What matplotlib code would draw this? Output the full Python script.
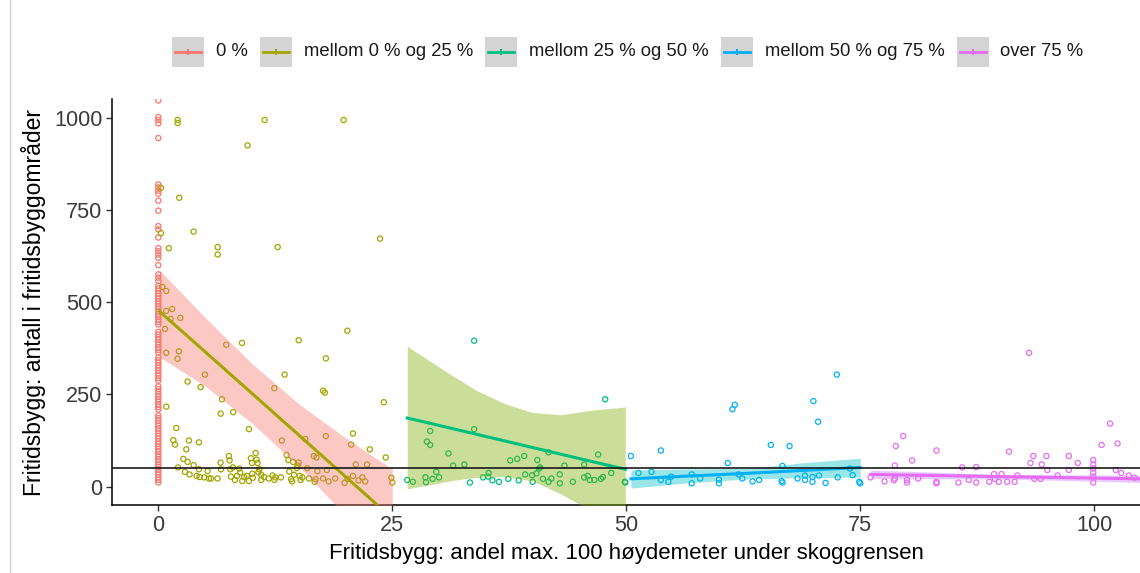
import matplotlib
matplotlib.use("Agg")
import matplotlib.pyplot as plt
from matplotlib.patches import Rectangle
from matplotlib.lines import Line2D

plt.rcParams['font.family'] = ['Liberation Sans', 'DejaVu Sans']

groups = ['0 %', 'mellom 0 % og 25 %', 'mellom 25 % og 50 %',
          'mellom 50 % og 75 %', 'over 75 %']
point_colors = ['#F8766D', '#A3A500', '#00BF7D', '#00B0F6', '#E76BF3']
band_colors = ['#F8766D', '#7CAE00', '#00BFC4', '#C77CFF']

# group "0 %": all at x = 0
g0_y = [1048, 1003, 995, 986, 946, 820, 812, 803, 795, 776, 749, 707, 698, 676,
        647, 639, 630, 621, 601, 576, 567, 558,
        545, 538, 531, 524, 517, 510, 503, 496, 489, 482, 475, 468, 461, 454, 447, 440,
        420, 413, 406, 399, 392, 385, 378, 371, 364,
        350, 343, 336, 329, 322, 315, 308, 301, 294, 287,
        272, 265, 258, 251, 244, 237, 230, 223, 216, 209,
        193, 186, 179, 172, 165, 158, 151, 144, 137, 130, 123, 116, 109, 102,
        95, 88, 81, 74, 67, 60, 53, 46, 39, 32, 25, 18, 11]

g1_pts = [(2.06, 995), (2.06, 987), (11.36, 995), (19.8, 995), (9.54, 926), (0.28, 811),
          (2.24, 784), (0.28, 688), (3.77, 692), (23.7, 673), (1.13, 647), (6.34, 650),
          (6.34, 630), (12.75, 650), (0.43, 542), (0.85, 531),
          (0.85, 477), (1.49, 482), (1.31, 455), (0.71, 428), (2.35, 458), (0.85, 363),
          (2.2, 367), (2.06, 347), (7.26, 385), (8.94, 390), (15.0, 397), (20.2, 423),
          (17.9, 348), (4.98, 304), (13.5, 304), (3.13, 285), (4.52, 270), (12.4, 267),
          (17.6, 260), (17.8, 255), (6.8, 237), (6.66, 198), (8.0, 202), (0.85, 217),
          (24.1, 229), (1.92, 159), (9.68, 156), (1.6, 126), (1.78, 114), (3.27, 125),
          (4.34, 120), (2.99, 101), (13.2, 125), (15.7, 129), (17.9, 137), (20.8, 144),
          (20.6, 114), (22.6, 101), (24.3, 79), (16.6, 83), (16.9, 79),
          (2.1, 52), (2.84, 40), (3.13, 67), (2.67, 75), (3.34, 33), (3.77, 58), (4.09, 29),
          (4.34, 47), (4.41, 26), (4.91, 25), (5.27, 42), (5.41, 22), (5.63, 22), (6.33, 22),
          (6.65, 65), (6.69, 47), (7.54, 83), (7.61, 71), (7.68, 47), (7.76, 27), (7.97, 52),
          (8.18, 18), (8.4, 29), (8.65, 49), (8.75, 38), (8.97, 15), (9.18, 26), (9.46, 29),
          (9.68, 15), (9.89, 77), (10.0, 64), (10.04, 35), (10.1, 24), (10.4, 91), (10.5, 73),
          (10.6, 64), (10.7, 39), (10.8, 47), (11.0, 18), (11.0, 32), (11.3, 26), (11.8, 22),
          (12.2, 30), (12.4, 18), (12.5, 25), (13.1, 25), (13.7, 86), (13.9, 72), (14.0, 41),
          (14.2, 20), (14.3, 14), (14.4, 67), (14.5, 32), (14.8, 50), (14.9, 57), (15.0, 65),
          (15.1, 29), (15.2, 18), (15.4, 25), (15.9, 50), (16.1, 22), (16.7, 13), (16.8, 20),
          (17.0, 42), (17.6, 22), (18.0, 45), (18.2, 14), (18.9, 22), (19.9, 10), (20.2, 21),
          (20.8, 29), (21.1, 60), (21.4, 17), (21.8, 25), (22.1, 14), (22.3, 60), (24.9, 24),
          (25.0, 11)]

g2_pts = [(33.75, 396), (47.75, 237), (29.05, 151), (33.75, 156), (28.7, 122), (29.05, 113),
          (31.0, 90), (31.5, 57), (32.7, 60), (37.6, 71), (38.35, 75), (39.1, 83), (40.5, 72),
          (40.8, 52), (41.7, 93), (43.4, 57), (45.5, 60), (47.0, 87), (48.4, 37), (26.6, 18),
          (27.2, 13), (28.55, 25), (28.6, 12), (29.3, 21), (29.7, 40), (30.0, 25), (33.3, 11),
          (34.7, 25), (35.25, 27), (35.3, 37), (35.7, 17), (36.4, 13), (37.4, 21), (38.5, 17),
          (39.2, 33), (39.95, 31), (40.0, 13), (40.4, 36), (40.7, 49), (41.1, 21), (41.7, 13),
          (42.0, 22), (42.9, 33), (42.9, 9), (44.3, 13), (45.5, 25), (45.9, 29), (46.1, 18),
          (46.6, 18), (47.3, 21), (47.5, 26), (49.85, 13), (49.9, 11)]

g3_pts = [(72.5, 304), (70.0, 232), (70.5, 176), (61.6, 222), (61.35, 210), (50.5, 83),
          (53.7, 98), (65.45, 113), (67.45, 110), (60.85, 64), (66.7, 56), (51.3, 37),
          (52.7, 40), (53.7, 18), (54.5, 13), (54.8, 27), (57.0, 33), (57.0, 9), (57.9, 22),
          (59.9, 19), (59.9, 9), (62.0, 33), (62.4, 22), (63.5, 14), (64.2, 18), (66.6, 15),
          (66.7, 11), (68.3, 22), (69.1, 30), (69.1, 18), (69.9, 26), (69.9, 13), (70.6, 30),
          (71.3, 10), (72.6, 25), (73.9, 49), (74.2, 31), (74.9, 13), (75.0, 9)]

g4_pts = [(93.05, 363), (101.7, 171), (100.8, 113), (102.5, 117), (79.6, 137), (78.8, 110),
          (83.15, 98), (80.55, 71), (90.9, 95), (93.5, 83), (94.9, 83), (97.3, 83), (93.2, 64),
          (94.4, 60), (98.25, 64), (99.9, 72), (99.9, 60), (99.9, 49), (99.9, 38), (99.9, 27),
          (99.9, 11), (78.7, 57), (85.9, 52), (87.4, 53), (95.0, 45), (97.3, 45), (102.3, 45),
          (102.9, 37), (76.1, 25), (77.6, 14), (78.6, 17), (78.7, 22), (80.0, 18), (80.0, 11),
          (81.2, 22), (83.15, 13), (83.15, 9), (85.5, 11), (86.6, 18), (87.4, 11), (88.8, 13),
          (89.3, 34), (89.4, 21), (89.8, 13), (90.1, 34), (90.7, 13), (91.5, 13), (91.8, 30),
          (93.6, 21), (94.3, 21), (96.1, 30), (103.7, 30), (104.3, 24)]

# fitted lines (lm) with confidence band
band1_x = [0.1, 5, 10, 15, 20, 25]
fit1 = [476, 366, 253, 140, 27, -86]
hi1 = [588, 459, 334, 225, 132, 48]
lo1 = [352, 273, 172, 55, -78, -218]

band2_x = [26.6, 29, 31.5, 34, 37, 40, 43, 46.5, 49.9]
fit2 = [186, 172, 157, 142, 124, 106, 88, 67, 47]
hi2 = [381, 341, 300, 261, 225, 201, 195, 208, 216]
lo2 = [-6, 5, 17, 25, 27, 15, -20, -68, -126]

band3_x = [50.5, 56.5, 63, 69, 75]
fit3 = [21, 28.5, 36, 44, 52]
hi3 = [45, 48, 49, 65, 77]
lo3 = [-4, 10, 21, 24, 26]

band4_x = [76.1, 90, 105]
fit4 = [33, 27, 21]
hi4 = [45, 33, 31]
lo4 = [22, 21, 11]

ref_line = 50

W, H = 1140, 573
fig = plt.figure(figsize=(W / 100, H / 100), dpi=100)
ax = fig.add_axes([112 / W, 1 - 505 / H, 1 - 112 / W, (505 - 99) / H])

pts = [[(0, y) for y in g0_y], g1_pts, g2_pts, g3_pts, g4_pts]
for p, c in zip(pts, point_colors):
    ax.scatter([a for a, b in p], [b for a, b in p], s=14, facecolors='none',
               edgecolors=c, linewidths=0.9, zorder=2)

bands = [(band1_x, fit1, lo1, hi1), (band2_x, fit2, lo2, hi2),
         (band3_x, fit3, lo3, hi3), (band4_x, fit4, lo4, hi4)]
for i, (bx, f, lo, hi) in enumerate(bands):
    ax.fill_between(bx, lo, hi, color=band_colors[i], alpha=0.4, lw=0, zorder=3)
    ax.plot(bx, f, color=point_colors[i + 1], lw=2.2, zorder=4)

ax.axhline(ref_line, color='#1a1a1a', lw=1.2, zorder=5)

ax.set_xlim(-4.95, 104.9)
ax.set_ylim(-50, 1052)
ax.set_xticks([0, 25, 50, 75, 100])
ax.set_yticks([0, 250, 500, 750, 1000])
for s in ['top', 'right']:
    ax.spines[s].set_visible(False)
for s in ['left', 'bottom']:
    ax.spines[s].set_linewidth(1.1)
    ax.spines[s].set_color('black')
ax.tick_params(length=4, width=1, color='#333333', labelsize=15.6,
               labelcolor='#3a3a3a', pad=3)
ax.set_xlabel('Fritidsbygg: andel max. 100 høydemeter under skoggrensen',
              fontsize=16, labelpad=5)
ax.set_ylabel('Fritidsbygg: antall i fritidsbyggområder', fontsize=16.5, labelpad=6)

# legend at the top, drawn like ggplot keys
fig.add_artist(Line2D([10 / W, 10 / W], [0, 1], color='#D0D0D0', lw=1))
renderer = fig.canvas.get_renderer()
x = 172
ky0, ky1 = 37, 67
for g, c in zip(groups, point_colors):
    fig.add_artist(Rectangle((x / W, 1 - ky1 / H), 32 / W, (ky1 - ky0) / H,
                             transform=fig.transFigure, color='#D4D4D4', lw=0))
    fig.add_artist(Line2D([(x + 3) / W, (x + 29) / W], [1 - 52 / H] * 2,
                          color=c, lw=2))
    fig.add_artist(Line2D([(x + 16) / W], [1 - 52 / H], color=c, marker='|',
                          markersize=5, mew=1.5))
    t = fig.text((x + 44) / W, 1 - 52 / H, g, fontsize=13.3, va='center',
                 ha='left', color='#1a1a1a')
    w = t.get_window_extent(renderer).width
    x = x + 44 + w + 12

fig.savefig('out.png', dpi=100)
